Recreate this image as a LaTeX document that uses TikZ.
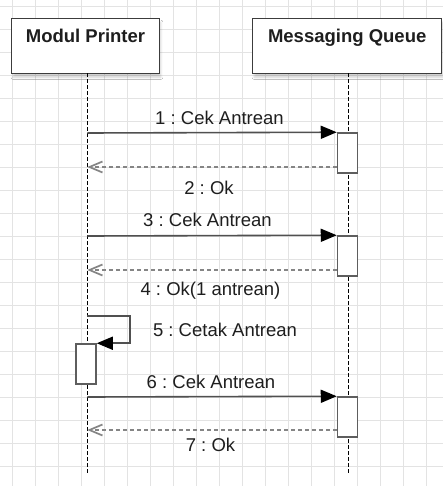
\documentclass[tikz,border=0pt]{standalone}
\usepackage{fontspec}
\setmainfont{Liberation Sans}
\usetikzlibrary{arrows.meta,shadows.blur}
\definecolor{gridc}{HTML}{E3E3E3}
\definecolor{boxc}{HTML}{3C3C3C}
\definecolor{actc}{HTML}{5E5E5E}
\definecolor{msgc}{HTML}{505050}
\definecolor{retc}{HTML}{858585}
\definecolor{txtc}{HTML}{1E1E1E}
\frenchspacing
\begin{document}
\begin{tikzpicture}[x=1pt,y=-1pt,
  gridline/.style={draw=gridc,line width=0.9pt},
  head/.style={draw=boxc,line width=1.5pt,fill=white,inner sep=0pt,
    font=\fontsize{18.5}{22}\selectfont\bfseries,text=txtc,
    text height=24.7pt,text depth=30.3pt,minimum height=55pt,
    blur shadow={shadow xshift=1.5pt,shadow yshift=-4pt,shadow opacity=18,shadow blur steps=6}},
  lifeline/.style={draw=black,line width=1.3pt,dash pattern=on 3.3pt off 2.7pt},
  act/.style={draw=actc,line width=1.5pt,fill=white,minimum width=20pt,minimum height=40pt,inner sep=0pt},
  msg/.style={draw=msgc,line width=1.6pt,-{Triangle[length=16pt,width=13pt,color=black]}},
  ret/.style={draw=retc,line width=1.7pt,dash pattern=on 4pt off 3pt,-{Straight Barb[length=13pt,width=11pt]}},
  lbl/.style={anchor=base,inner sep=0pt,text=txtc,font=\fontsize{18.5}{22}\selectfont\frenchspacing}]
\useasboundingbox (0,0) rectangle (443,486);
\fill[white] (0,0) rectangle (443,486);
% background grid
\foreach \i in {0,...,18} \draw[gridline] ({12.7+23*\i},0) -- ({12.7+23*\i},486);
\foreach \j in {0,...,20} \draw[gridline] (0,{6.7+23*\j}) -- (443,{6.7+23*\j});

% participants
\node[head,minimum width=147.6pt] (mp) at (85.5,45.8) {Modul Printer};
\node[head,minimum width=189pt] (mq) at (347.2,45.8) {Messaging Queue};

% lifelines
\coordinate (p0) at (87.3,73.3);
\coordinate (p1) at (87.3,473);
\coordinate (q0) at (348.3,73.3);
\coordinate (q1) at (348.3,473);
\draw[lifeline] (p0) -- (p1);
\draw[lifeline] (q0) -- (q1);

% activation bars
\node[act] (a1) at (347.5,153) {};
\node[act] (a2) at (347.5,256) {};
\node[act] (a0) at (86,364) {};
\node[act] (a3) at (347.5,417) {};

% message anchors on the printer lifeline
\coordinate (s1) at (87.3,133);
\coordinate (t2) at (87.3,167);
\coordinate (s3) at (87.3,236);
\coordinate (t4) at (87.3,270);
\coordinate (s5) at (87.3,316);
\coordinate (k5) at (130,316);
\coordinate (s6) at (87.3,397);
\coordinate (t7) at (87.3,430);

% messages
\draw[msg] (s1) -- (a1.north west);
\draw[ret] (a1.west |- t2) -- (t2);
\draw[msg] (s3) -- (a2.north west);
\draw[ret] (a2.west |- t4) -- (t4);
\draw[msg] (s5) -- (k5) |- (a0.north east);
\draw[msg] (s6) -- (a3.north west);
\draw[ret] (a3.west |- t7) -- (t7);

% message labels
\node[lbl] (l1) at (219.5,124.3) {1 : Cek Antrean};
\node[lbl] (l2) at (209,194) {2 : Ok};
\node[lbl] (l3) at (207.5,226.7) {3 : Cek Antrean};
\node[lbl] (l4) at (210.5,295.5) {4 : Ok(1 antrean)};
\node[lbl] (l5) at (225,336) {5 : Cetak Antrean};
\node[lbl] (l6) at (211,388.7) {6 : Cek Antrean};
\node[lbl] (l7) at (210.5,451.7) {7 : Ok};
\end{tikzpicture}
\end{document}
